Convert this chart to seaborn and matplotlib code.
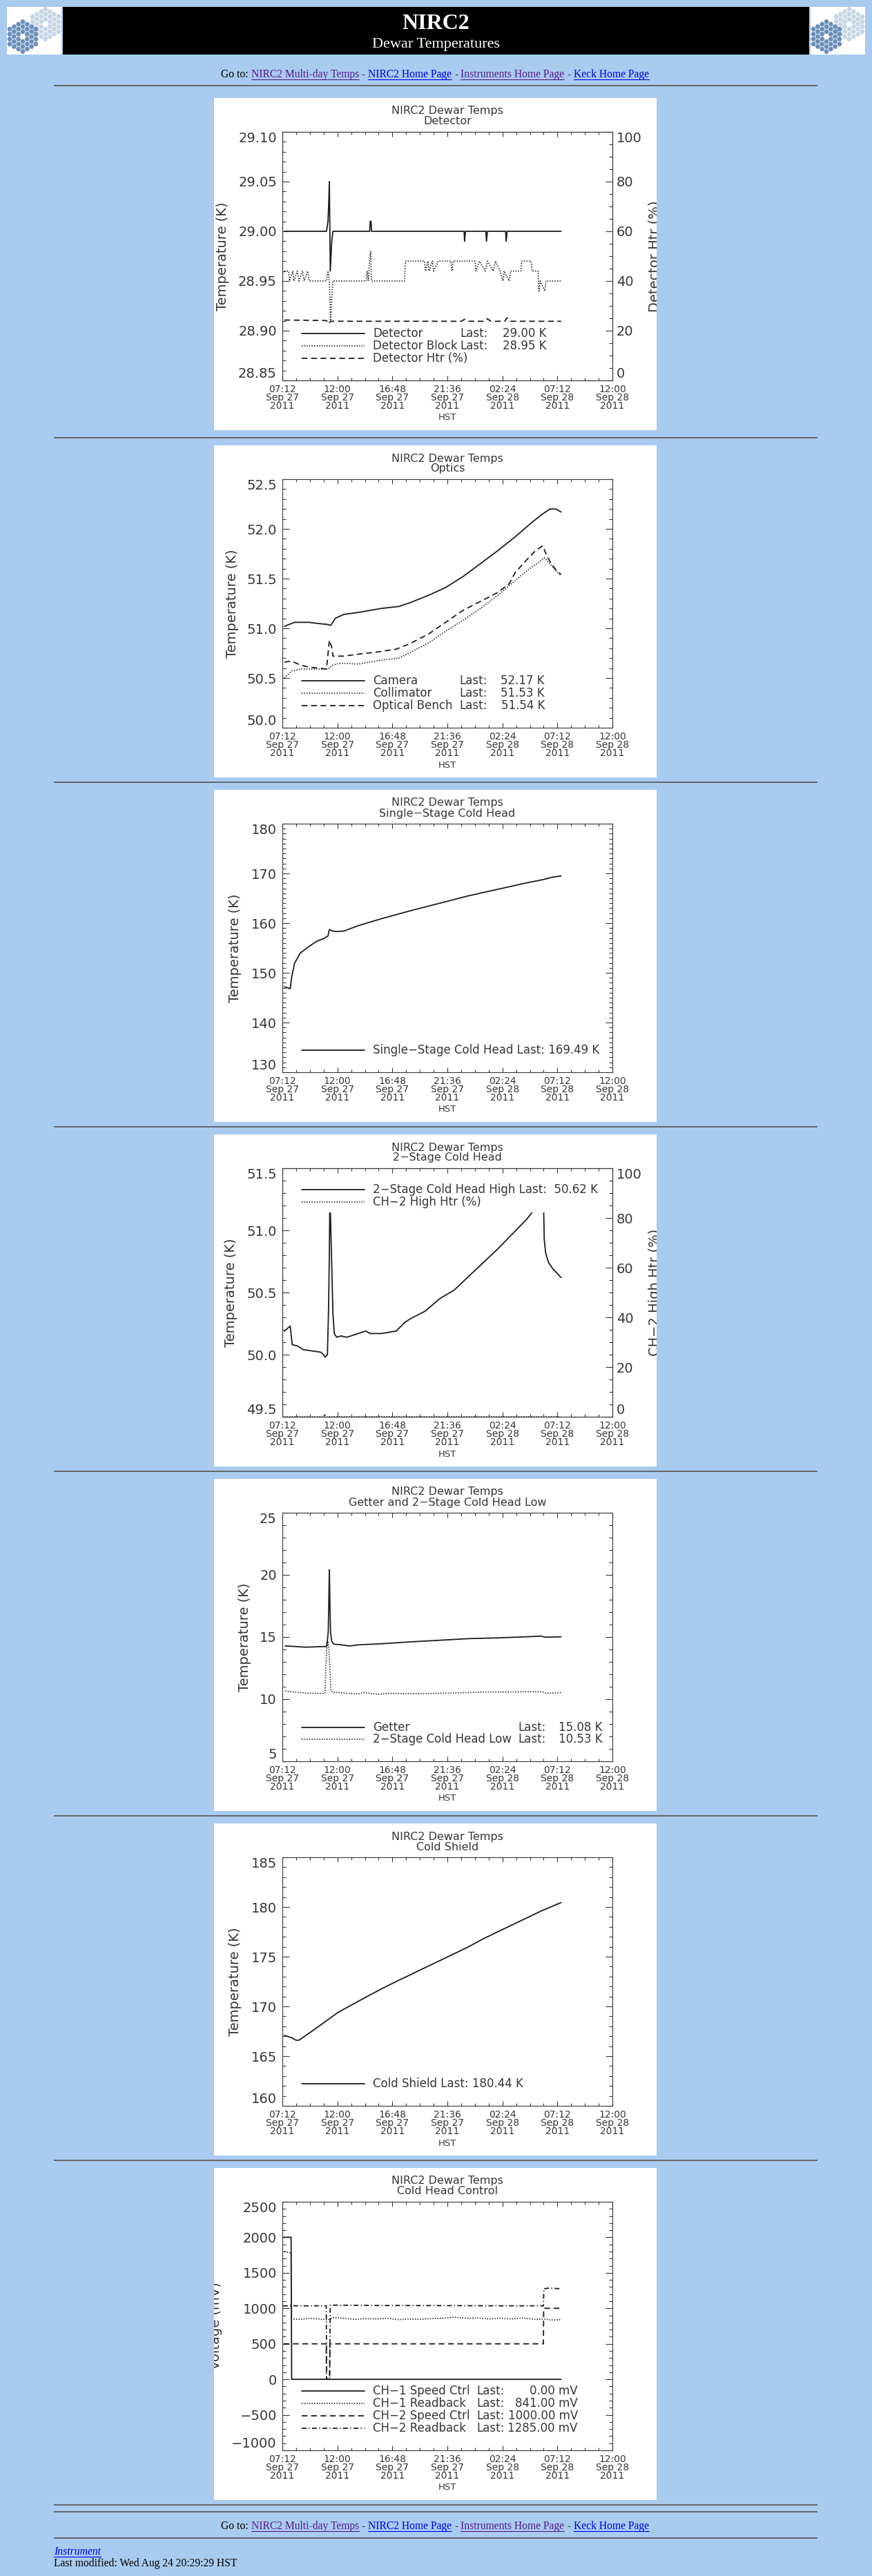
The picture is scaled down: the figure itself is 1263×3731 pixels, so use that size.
import numpy as np
import matplotlib
matplotlib.use('Agg')
import matplotlib.pyplot as plt
import seaborn as sns
from matplotlib.patches import Rectangle, RegularPolygon
from matplotlib.lines import Line2D
from matplotlib.ticker import MultipleLocator

W, H = 1263, 3731

# time axis: hours after 07:12 HST, Sep 27 2011
x_ticks = [0, 4.8, 9.6, 14.4, 19.2, 24.0, 28.8]
x_labels = ['07:12\nSep 27\n2011', '12:00\nSep 27\n2011', '16:48\nSep 27\n2011',
            '21:36\nSep 27\n2011', '02:24\nSep 28\n2011', '07:12\nSep 28\n2011',
            '12:00\nSep 28\n2011']

# --- Detector ---
det_t = [0.18, 3.85, 3.98, 4.05, 4.10, 4.18, 4.31, 4.41, 7.62, 7.66, 7.74, 7.78,
         15.86, 15.90, 15.98, 17.76, 17.81, 17.89, 19.48, 19.53, 19.61, 24.32]
det_k = [29.00, 29.00, 29.01, 29.03, 29.05, 28.96, 28.99, 29.00, 29.00, 29.01, 29.01, 29.00,
         29.00, 28.99, 29.00, 29.00, 28.99, 29.00, 29.00, 28.99, 29.00, 29.00]
blk_t = [0.18, 0.55, 0.62, 0.90, 1.00, 1.30, 1.45, 1.75, 1.90, 2.20, 2.33, 3.85, 3.98, 4.10,
         4.20, 4.30, 4.41, 7.30, 7.40, 7.50, 7.60, 7.70, 7.78, 10.65, 10.75, 12.40, 12.50,
         12.70, 12.80, 13.10, 13.20, 13.60, 14.70, 14.80, 14.90, 16.80, 16.90, 17.20, 17.70,
         17.90, 18.40, 18.60, 19.00, 19.25, 19.35, 19.80, 19.90, 20.80, 20.90, 21.70, 21.80,
         22.30, 22.40, 22.50, 22.90, 23.00, 24.32]
blk_k = [28.96, 28.96, 28.95, 28.96, 28.95, 28.96, 28.95, 28.96, 28.95, 28.96, 28.95, 28.95,
         28.96, 28.95, 28.91, 28.93, 28.95, 28.95, 28.96, 28.95, 28.97, 28.98, 28.95, 28.95,
         28.97, 28.97, 28.96, 28.97, 28.96, 28.97, 28.96, 28.97, 28.97, 28.96, 28.97, 28.97,
         28.96, 28.97, 28.96, 28.97, 28.96, 28.97, 28.96, 28.95, 28.96, 28.95, 28.96, 28.96,
         28.97, 28.97, 28.96, 28.96, 28.94, 28.95, 28.94, 28.95, 28.95]
htr_t = [0.18, 3.85, 4.05, 4.20, 15.60, 15.90, 16.20, 17.60, 17.90, 18.20, 19.40, 19.60, 19.90, 24.32]
htr_p = [24.3, 24.1, 22.8, 23.8, 23.8, 24.6, 23.8, 23.8, 24.8, 23.8, 23.8, 25.2, 23.8, 23.8]

# --- Optics ---
cam_t = [0.18, 1.06, 2.33, 2.96, 3.85, 4.23, 4.61, 5.37, 6.64, 8.66, 10.18, 11.20, 12.72,
         14.24, 15.76, 17.28, 18.79, 20.31, 21.83, 22.59, 23.35, 23.86, 24.32]
cam_k = [51.02, 51.06, 51.06, 51.05, 51.04, 51.03, 51.10, 51.14, 51.16, 51.20, 51.22, 51.26,
         51.33, 51.41, 51.52, 51.65, 51.78, 51.92, 52.07, 52.14, 52.20, 52.20, 52.17]
col_t = [0.18, 0.81, 1.57, 3.09, 3.98, 4.36, 5.12, 6.64, 8.66, 10.18, 11.20, 12.72, 14.24,
         15.76, 17.28, 18.79, 20.31, 21.33, 22.34, 22.85, 23.35, 23.86, 24.32]
col_k = [50.50, 50.57, 50.59, 50.59, 50.59, 50.63, 50.65, 50.64, 50.68, 50.70, 50.76, 50.85,
         50.97, 51.08, 51.20, 51.33, 51.48, 51.58, 51.66, 51.71, 51.65, 51.58, 51.53]
ben_t = [0.18, 0.81, 1.57, 2.33, 3.09, 3.85, 4.10, 4.31, 4.41, 5.37, 6.64, 8.16, 9.93, 11.20,
         12.72, 14.24, 15.76, 17.28, 18.79, 19.81, 20.31, 21.33, 22.09, 22.72, 23.10, 23.48,
         23.86, 24.32]
ben_k = [50.66, 50.67, 50.63, 50.61, 50.60, 50.59, 50.88, 50.81, 50.72, 50.72, 50.74, 50.76,
         50.79, 50.85, 50.94, 51.06, 51.18, 51.27, 51.36, 51.45, 51.56, 51.69, 51.78, 51.83,
         51.72, 51.65, 51.59, 51.54]

# --- Single-stage cold head ---
ss_t = [0.18, 0.68, 0.81, 1.06, 1.57, 2.20, 2.96, 3.60, 3.98, 4.10, 4.36, 4.74, 5.37, 6.64,
        8.66, 11.20, 13.73, 16.26, 18.79, 21.33, 22.85, 23.48, 24.32]
ss_k = [147.2, 146.8, 149.1, 151.9, 154.0, 155.1, 156.3, 156.9, 157.4, 158.7, 158.4, 158.3,
        158.4, 159.5, 160.9, 162.5, 164.0, 165.5, 166.8, 168.1, 168.8, 169.2, 169.49]

# --- 2-stage cold head ---
hi_t = [0.18, 0.68, 0.86, 1.32, 1.82, 2.58, 3.34, 3.60, 3.72, 3.93, 4.03, 4.10, 4.15, 4.20,
        4.31, 4.41, 4.53, 4.74, 5.12, 5.62, 6.64, 7.27, 7.65, 8.66, 9.93, 10.69, 11.20, 12.46,
        13.73, 15.00, 16.26, 17.53, 18.79, 20.06, 21.33, 21.83, 22.34, 22.72, 22.80, 22.85,
        22.97, 23.23, 23.61, 24.32]
hi_k = [50.19, 50.23, 50.08, 50.07, 50.04, 50.03, 50.02, 50.00, 49.98, 50.00, 50.37, 50.82,
        51.30, 51.10, 50.71, 50.33, 50.17, 50.14, 50.15, 50.14, 50.17, 50.19, 50.17, 50.17,
        50.19, 50.26, 50.29, 50.35, 50.45, 50.52, 50.63, 50.74, 50.85, 50.97, 51.09, 51.15,
        51.21, 51.24, 51.18, 50.93, 50.82, 50.74, 50.69, 50.62]
hih_t = [0.18, 3.60, 3.72, 3.85, 24.32]
hih_p = [0.0, 0.0, 1.0, 0.0, 0.0]

# --- Getter and 2-stage low ---
get_t = [0.25, 1.06, 2.08, 3.09, 3.85, 3.93, 4.00, 4.05, 4.10, 4.15, 4.20, 4.31, 4.48, 5.12,
         5.88, 6.64, 8.66, 11.20, 13.73, 16.26, 18.79, 21.33, 22.59, 22.97, 24.32]
get_k = [14.28, 14.24, 14.18, 14.22, 14.24, 14.74, 15.39, 17.8, 20.4, 17.6, 15.4, 14.65, 14.43,
         14.37, 14.28, 14.37, 14.46, 14.61, 14.74, 14.87, 14.93, 15.02, 15.07, 14.98, 15.02]
lo_t = [0.25, 1.06, 2.33, 3.72, 3.85, 3.98, 4.10, 4.23, 4.36, 5.62, 6.64, 7.14, 8.41, 9.17,
        11.20, 13.73, 16.26, 17.28, 18.79, 21.33, 22.59, 23.10, 24.32]
lo_k = [10.66, 10.57, 10.47, 10.47, 13.9, 14.65, 13.5, 10.75, 10.57, 10.47, 10.42, 10.53,
        10.38, 10.47, 10.44, 10.47, 10.53, 10.57, 10.57, 10.60, 10.60, 10.47, 10.53]

# --- Cold shield ---
cs_t = [0.18, 0.81, 1.19, 1.45, 2.33, 3.60, 4.86, 6.13, 7.40, 8.66, 9.93, 11.20, 12.46, 13.73,
        15.00, 16.26, 17.53, 18.79, 20.06, 21.33, 22.59, 24.32]
cs_k = [167.08, 166.85, 166.6, 166.6, 167.3, 168.35, 169.4, 170.2, 171.0, 171.77, 172.5, 173.2,
        173.9, 174.6, 175.3, 176.0, 176.8, 177.5, 178.2, 178.9, 179.6, 180.44]

# --- Cold head control ---
c1s_t = [0.05, 0.76, 0.81, 24.32]
c1s_mv = [2000, 2000, 0, 0]
c1r_t = [0.18, 0.76, 0.81, 1.6, 2.4, 3.2, 4.0, 4.5, 5.4, 6.3, 7.2, 8.2, 9.2, 10.1, 11.0, 12.0,
         13.0, 14.0, 15.0, 16.0, 17.0, 18.0, 19.0, 20.0, 21.0, 22.0, 22.8, 23.5, 24.32]
c1r_mv = [1800, 1780, 850, 845, 860, 850, 840, 870, 860, 845, 855, 850, 860, 840, 850, 845,
          855, 860, 875, 860, 865, 850, 860, 850, 865, 845, 850, 835, 841]
c2s_t = [0.10, 3.83, 3.85, 4.12, 4.15, 22.78, 22.80, 24.32]
c2s_mv = [500, 500, 0, 0, 500, 500, 1000, 1000]
c2r_t = [0.05, 3.83, 3.86, 4.12, 4.18, 8.0, 14.0, 20.0, 22.78, 22.82, 23.3, 24.32]
c2r_mv = [1035, 1035, 0, 0, 1045, 1040, 1038, 1035, 1035, 1275, 1285, 1275]

# ---------------------------------------------------------------------------
page_blue = '#A9CBEF'
ink = '#363636'
line_col = '#1c1c1c'
DASH = {'solid': '-', 'dot': (0, (1.0, 1.6)), 'dash': (0, (6.0, 3.8)),
        'dashdot': (0, (5.0, 2.4, 1.0, 2.4))}
LW = 1.3

sns.set_style('ticks')
plt.rcParams['font.family'] = ['DejaVu Sans']
plt.rcParams['lines.scale_dashes'] = False

fig = plt.figure(figsize=(W / 100, H / 100), dpi=100)
fig.patch.set_facecolor(page_blue)
bg = fig.add_axes([0, 0, 1, 1])
bg.set_xlim(0, W)
bg.set_ylim(H, 0)
bg.axis('off')

serif = 'Liberation Serif'


def keck_logo(x0):
    bg.add_patch(Rectangle((x0, 10), 79, 69, facecolor='white', edgecolor='none'))
    for cx, cy, col in [(x0 + 56, 35, '#C6D6E6'), (x0 + 23, 53, '#6A8EB8')]:
        for q in range(-3, 4):
            for r in range(-3, 4):
                if max(abs(q), abs(r), abs(q + r)) > 3 or (q == 0 and r == 0):
                    continue
                bg.add_patch(RegularPolygon((cx + q * 6.3, cy + (r + q / 2) * 7.2), 6,
                                            radius=3.7, orientation=np.pi / 6,
                                            facecolor=col, edgecolor='none'))


keck_logo(10)
keck_logo(1174)
bg.add_patch(Rectangle((91, 10), 1081, 69, facecolor='black', edgecolor='none'))
bg.text(631.5, 42, 'NIRC2', color='white', fontsize=23, family=serif, weight='bold',
        ha='center', va='baseline')
bg.text(631.5, 69, 'Dewar Temperatures', color='white', fontsize=16, family=serif,
        ha='center', va='baseline')

renderer = fig.canvas.get_renderer()
link_pieces = [('Go to:', 'black', False), ('NIRC2 Multi-day Temps', '#551A8B', True),
               ('-', 'black', False), ('NIRC2 Home Page', '#0000EE', True),
               ('-', 'black', False), ('Instruments Home Page', '#551A8B', True),
               ('-', 'black', False), ('Keck Home Page', '#0000EE', True)]


def link_line(x, y):
    for s, col, ul in link_pieces:
        t = bg.text(x, y, s, color=col, fontsize=11.25, family=serif, ha='left', va='baseline')
        w = t.get_window_extent(renderer).width
        if ul:
            bg.plot([x, x + w], [y + 2.5, y + 2.5], color=col, lw=0.8)
        x += w + 4.0


link_line(320, 112)
link_line(320, 3663)

for y in [124, 634, 1133, 1632, 2131, 2630, 3129, 3628, 3638, 3676]:
    bg.plot([78, 1184], [y, y], color='#5e5e5e', lw=1.3, solid_capstyle='butt')

t = bg.text(78, 3700, 'Instrument', color='#0000EE', fontsize=11.25, family=serif,
            style='italic', va='baseline')
w = t.get_window_extent(renderer).width
bg.plot([78, 78 + w], [3702.5, 3702.5], color='#0000EE', lw=0.8)
bg.text(78, 3717, 'Last modified: Wed Aug 24 20:29:29 HST', color='black', fontsize=11.25,
        family=serif, va='baseline')

panel_tops = [142, 645, 1144, 1643, 2142, 2641, 3140]
panels = []
for top in panel_tops:
    panels.append(bg.add_patch(Rectangle((310, top), 641, 481, facecolor='white',
                                         edgecolor='none')))


def style_yticks(axis_obj, side):
    ticks = axis_obj.get_major_ticks()
    lab = 'label1' if side == 'left' else 'label2'
    getattr(ticks[0], lab).set_va('bottom')
    getattr(ticks[-1], lab).set_va('top')


def make_axes(i, subtitle, yticks, ylabels, yminor, ylabel, ylabel_x,
              right_label=None, right_x=948):
    top = panel_tops[i] + 49
    ax = fig.add_axes([409 / W, 1 - (top + 360) / H, 478 / W, 360 / H])
    ax.set_facecolor('white')
    tw = ax.twinx() if right_label else None
    ax.set_xlim(0, 28.8)
    ax.set_ylim(yticks[0], yticks[-1])
    ax.set_xticks(x_ticks, x_labels, fontsize=10, linespacing=0.8, color=ink)
    ax.xaxis.set_minor_locator(MultipleLocator(1.2))
    ax.set_yticks(yticks, ylabels, fontsize=14, color=ink)
    ax.yaxis.set_minor_locator(MultipleLocator(yminor))
    ax.tick_params(axis='x', which='both', direction='in', top=True, bottom=True,
                   pad=4.5, color=ink, width=0.8)
    ax.tick_params(axis='x', which='major', length=5.2)
    ax.tick_params(axis='x', which='minor', length=2.6)
    ax.tick_params(axis='y', which='both', direction='in', left=True,
                   right=tw is None, labelright=False, pad=5.8, color=ink, width=0.8)
    ax.tick_params(axis='y', which='major', length=6.9)
    ax.tick_params(axis='y', which='minor', length=3.4)
    for sp in ax.spines.values():
        sp.set_color(ink)
        sp.set_linewidth(0.8)
    style_yticks(ax.yaxis, 'left')
    bg.text(648, top - 30, 'NIRC2 Dewar Temps', ha='center', va='center', fontsize=11.5, color=ink)
    bg.text(648, top - 15, subtitle, ha='center', va='center', fontsize=11.5, color=ink)
    bg.text(648, top + 360 + 54, 'HST', ha='center', va='center', fontsize=9.5, color=ink)
    t = bg.text(ylabel_x, top + 180, ylabel, rotation=90, ha='center', va='center',
                fontsize=14, color=ink, clip_on=True)
    t.set_clip_path(panels[i])
    if tw is not None:
        pct = [0, 20, 40, 60, 80, 100]
        tw.set_ylim(0, 100)
        tw.set_yticks(pct, [str(p) for p in pct], fontsize=14, color=ink)
        tw.yaxis.set_minor_locator(MultipleLocator(5))
        tw.tick_params(axis='y', which='both', direction='in', right=True, left=False,
                       pad=4.3, color=ink, width=0.8)
        tw.tick_params(axis='y', which='major', length=6.9)
        tw.tick_params(axis='y', which='minor', length=3.4)
        for sp in tw.spines.values():
            sp.set_color(ink)
            sp.set_linewidth(0.8)
        style_yticks(tw.yaxis, 'right')
        t = bg.text(right_x, top + 180, right_label, rotation=90, ha='center', va='center',
                    fontsize=14, color=ink, clip_on=True)
        t.set_clip_path(panels[i])
    return ax, tw


def draw_series(ax, t, v, style):
    sns.lineplot(x=t, y=v, ax=ax, color=line_col, lw=LW, estimator=None, sort=False)
    ax.get_lines()[-1].set_linestyle(DASH[style])
    ax.set_xlabel('')
    ax.set_ylabel('')


def legend(ax, rows, last_x=None, val_right=None, box_right=0.99):
    ys = [r[0] for r in rows]
    ax.add_patch(Rectangle((0.045, min(ys) - 0.042), box_right - 0.045,
                           max(ys) - min(ys) + 0.077, transform=ax.transAxes,
                           facecolor='white', edgecolor='none', zorder=3))
    for y, style, name, val in rows:
        ax.add_line(Line2D([0.059, 0.248], [y, y], transform=ax.transAxes, color=line_col,
                           lw=LW, linestyle=DASH[style], zorder=4))
        ax.text(0.274, y, name, transform=ax.transAxes, ha='left', va='center',
                fontsize=12, color=ink, zorder=5)
        if val is not None:
            ax.text(last_x, y, 'Last:', transform=ax.transAxes, ha='left', va='center',
                    fontsize=12, color=ink, zorder=5)
            ax.text(val_right, y, val, transform=ax.transAxes, ha='right', va='center',
                    fontsize=12, color=ink, zorder=5)


def fmt_ticks(lo, hi, step, fmt):
    vals = [round(v, 4) for v in np.arange(lo, hi + step / 2, step)]
    return vals, [(fmt % v).replace('-', '\u2212') for v in vals]


# 1 Detector
yt, yl = fmt_ticks(28.85, 29.10, 0.05, '%.2f')
ax, tw = make_axes(0, 'Detector', yt, yl, 0.01, 'Temperature (K)', 322, 'Detector Htr (%)')
draw_series(ax, det_t, det_k, 'solid')
draw_series(ax, blk_t, blk_k, 'dot')
draw_series(tw, htr_t, htr_p, 'dash')
tw.set_ylim(0, 100)
legend(tw, [(0.188, 'solid', 'Detector', '29.00 K'),
            (0.139, 'dot', 'Detector Block', '28.95 K'),
            (0.089, 'dash', 'Detector Htr (%)', None)], 0.538, 0.80, 0.82)

# 2 Optics
yt, yl = fmt_ticks(50.0, 52.5, 0.5, '%.1f')
ax, _ = make_axes(1, 'Optics', yt, yl, 0.1, 'Temperature (K)', 336)
draw_series(ax, cam_t, cam_k, 'solid')
draw_series(ax, col_t, col_k, 'dot')
draw_series(ax, ben_t, ben_k, 'dash')
legend(ax, [(0.188, 'solid', 'Camera', '52.17 K'),
            (0.139, 'dot', 'Collimator', '51.53 K'),
            (0.089, 'dash', 'Optical Bench', '51.54 K')], 0.537, 0.795, 0.82)

# 3 Single-stage cold head
yt, yl = fmt_ticks(130, 180, 10, '%d')
ax, _ = make_axes(2, 'Single\u2212Stage Cold Head', yt, yl, 1, 'Temperature (K)', 341)
draw_series(ax, ss_t, ss_k, 'solid')
legend(ax, [(0.089, 'solid', 'Single\u2212Stage Cold Head Last: 169.49 K', None)],
       box_right=0.98)

# 4 2-stage cold head
yt, yl = fmt_ticks(49.5, 51.5, 0.5, '%.1f')
ax, tw = make_axes(3, '2\u2212Stage Cold Head', yt, yl, 0.1, 'Temperature (K)', 334,
                   'CH\u22122 High Htr (%)')
draw_series(ax, hi_t, hi_k, 'solid')
draw_series(tw, hih_t, hih_p, 'dot')
tw.set_ylim(0, 100)
legend(tw, [(0.914, 'solid', '2\u2212Stage Cold Head High Last:  50.62 K', None),
            (0.863, 'dot', 'CH\u22122 High Htr (%)', None)], box_right=0.99)

# 5 Getter and 2-stage low
yt, yl = fmt_ticks(5, 25, 5, '%d')
ax, _ = make_axes(4, 'Getter and 2\u2212Stage Cold Head Low', yt, yl, 1, 'Temperature (K)', 354)
draw_series(ax, get_t, get_k, 'solid')
draw_series(ax, lo_t, lo_k, 'dot')
legend(ax, [(0.137, 'solid', 'Getter', '15.08 K'),
            (0.088, 'dot', '2\u2212Stage Cold Head Low', '10.53 K')], 0.714, 0.969, 0.98)

# 6 Cold shield
yt, yl = fmt_ticks(160, 185, 5, '%d')
ax, _ = make_axes(5, 'Cold Shield', yt, yl, 1, 'Temperature (K)', 341)
draw_series(ax, cs_t, cs_k, 'solid')
legend(ax, [(0.088, 'solid', 'Cold Shield Last: 180.44 K', None)], box_right=0.76)

# 7 Cold head control
yt, yl = fmt_ticks(-1000, 2500, 500, '%d')
ax, _ = make_axes(6, 'Cold Head Control', yt, yl, 100, 'Voltage (mV)', 313)
draw_series(ax, c1s_t, c1s_mv, 'solid')
draw_series(ax, c1r_t, c1r_mv, 'dot')
draw_series(ax, c2s_t, c2s_mv, 'dash')
draw_series(ax, c2r_t, c2r_mv, 'dashdot')
legend(ax, [(0.238, 'solid', 'CH\u22121 Speed Ctrl', '0.00 mV'),
            (0.188, 'dot', 'CH\u22121 Readback', '841.00 mV'),
            (0.139, 'dash', 'CH\u22122 Speed Ctrl', '1000.00 mV'),
            (0.088, 'dashdot', 'CH\u22122 Readback', '1285.00 mV')], 0.589, 0.895, 0.91)

fig.savefig('out.png', dpi=100, facecolor=page_blue)
